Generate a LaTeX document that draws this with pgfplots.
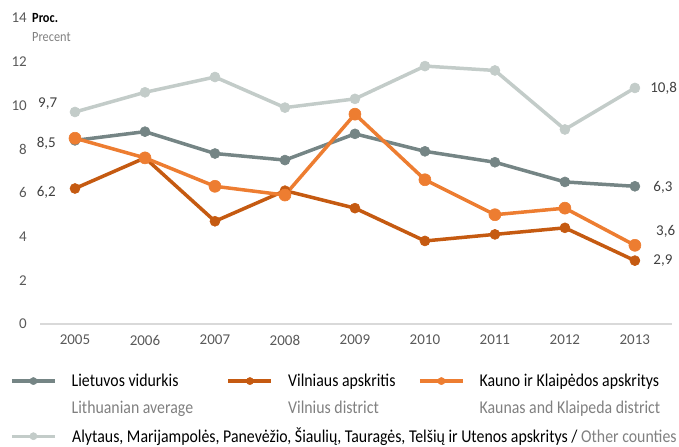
\documentclass[border=0pt]{standalone}
\usepackage{pgfplots}
\pgfplotsset{compat=1.18}
\usepackage{fontspec}
\setmainfont{Carlito}
\newfontfamily\cond[FakeStretch=0.88]{Carlito}
\definecolor{cavg}{HTML}{758585}
\definecolor{cvil}{HTML}{C55A11}
\definecolor{ckau}{HTML}{ED7D31}
\definecolor{coth}{HTML}{C3CCC9}
\definecolor{ctick}{HTML}{595959}
\definecolor{clab}{HTML}{404040}
\definecolor{csub}{HTML}{808080}

\begin{document}
\begin{tikzpicture}
\useasboundingbox (-40bp,-123bp) rectangle (639bp,324bp);
\begin{axis}[
 scale only axis, width=632bp, height=306bp, at={(0,0)}, anchor=south west,
 xmin=2004.5, xmax=2013.53, ymin=0, ymax=14,
 axis x line=bottom, axis y line=left,
 x axis line style={draw=black!15, line width=1.2bp, -},
 y axis line style={draw=none},
 major tick length=0pt,
 xtick={2005,...,2013}, ytick={0,2,...,14},
 /pgf/number format/assume math mode=true,
 xticklabel style={/pgf/number format/1000 sep={}, inner sep=0pt, yshift=-11bp},
 yticklabel style={inner sep=0pt, xshift=-13bp},
 tick label style={font=\fontsize{15bp}{18bp}\selectfont, text=ctick},
 clip=false,
 every axis plot/.append style={line width=3.5bp, mark=*, mark size=5bp, mark options={line width=0.6bp}},
 legend columns=3,
 legend style={at={(-0.0475,-0.163)}, anchor=north west, draw=none, fill=none,
   inner sep=0pt, row sep=40bp, nodes={inner sep=0pt},
   font=\cond\fontsize{18bp}{22bp}\selectfont, cells={anchor=west},
   /tikz/every even column/.append style={column sep=0pt},
   /tikz/every odd column/.append style={column sep=0pt}},
 legend image code/.code={
   \draw[#1, mark repeat=2, mark phase=2, line width=3.2bp, mark size=3.6bp, mark options={line width=0.5bp}]
     plot coordinates {(0bp,0bp) (21.5bp,0bp) (43bp,0bp)};
   \path (0bp,0bp) (58bp,0bp);},
]
\addplot[coth, forget plot] coordinates {
 (2005,9.7) (2006,10.6) (2007,11.3) (2008,9.9) (2009,10.3)
 (2010,11.8) (2011,11.6) (2012,8.9) (2013,10.8)};
\addplot[cavg] coordinates {
 (2005,8.4) (2006,8.8) (2007,7.8) (2008,7.5) (2009,8.7)
 (2010,7.9) (2011,7.4) (2012,6.5) (2013,6.3)};
\addlegendentry{\makebox[155bp][l]{\rlap{\smash{\raisebox{-27bp}{\color{csub}Lithuanian average}}}Lietuvos vidurkis}}
\addplot[cvil] coordinates {
 (2005,6.2) (2006,7.6) (2007,4.7) (2008,6.1) (2009,5.3)
 (2010,3.8) (2011,4.1) (2012,4.4) (2013,2.9)};
\addlegendentry{\makebox[130bp][l]{\rlap{\smash{\raisebox{-27bp}{\color{csub}Vilnius district}}}Vilniaus apskritis}}
\addplot[ckau, mark size=6bp] coordinates {
 (2005,8.5) (2006,7.6) (2007,6.3) (2008,5.9) (2009,9.6)
 (2010,6.6) (2011,5.0) (2012,5.3) (2013,3.6)};
\addlegendentry{\rlap{\smash{\raisebox{-27bp}{\color{csub}Kaunas and Klaipeda district}}}Kauno ir Klaipėdos apskritys}
\addlegendimage{coth, mark=*}
\addlegendentry{\makebox[0pt][l]{Alytaus, Marijampolės, Panevėžio, Šiaulių, Tauragės, Telšių ir Utenos apskritys / \textcolor{csub}{Other counties}}}

\begin{scope}[every node/.style={font=\fontsize{15bp}{18bp}\selectfont, text=clab}]
\node at (axis cs:2004.61,10.1) {9,7};
\node at (axis cs:2004.59,8.28) {8,5};
\node at (axis cs:2004.59,6.04) {6,2};
\node at (axis cs:2013.41,10.8) {10,8};
\node at (axis cs:2013.4,6.27) {6,3};
\node at (axis cs:2013.44,4.25) {3,6};
\node at (axis cs:2013.4,2.88) {2,9};
\end{scope}
\end{axis}
\node[anchor=west, inner sep=0pt, font=\cond\bfseries\fontsize{14bp}{16bp}\selectfont] at (-8bp,306bp) {Proc.};
\node[anchor=west, inner sep=0pt, text=csub, font=\cond\fontsize{14bp}{16bp}\selectfont] at (-8bp,287bp) {Precent};
\end{tikzpicture}
\end{document}
